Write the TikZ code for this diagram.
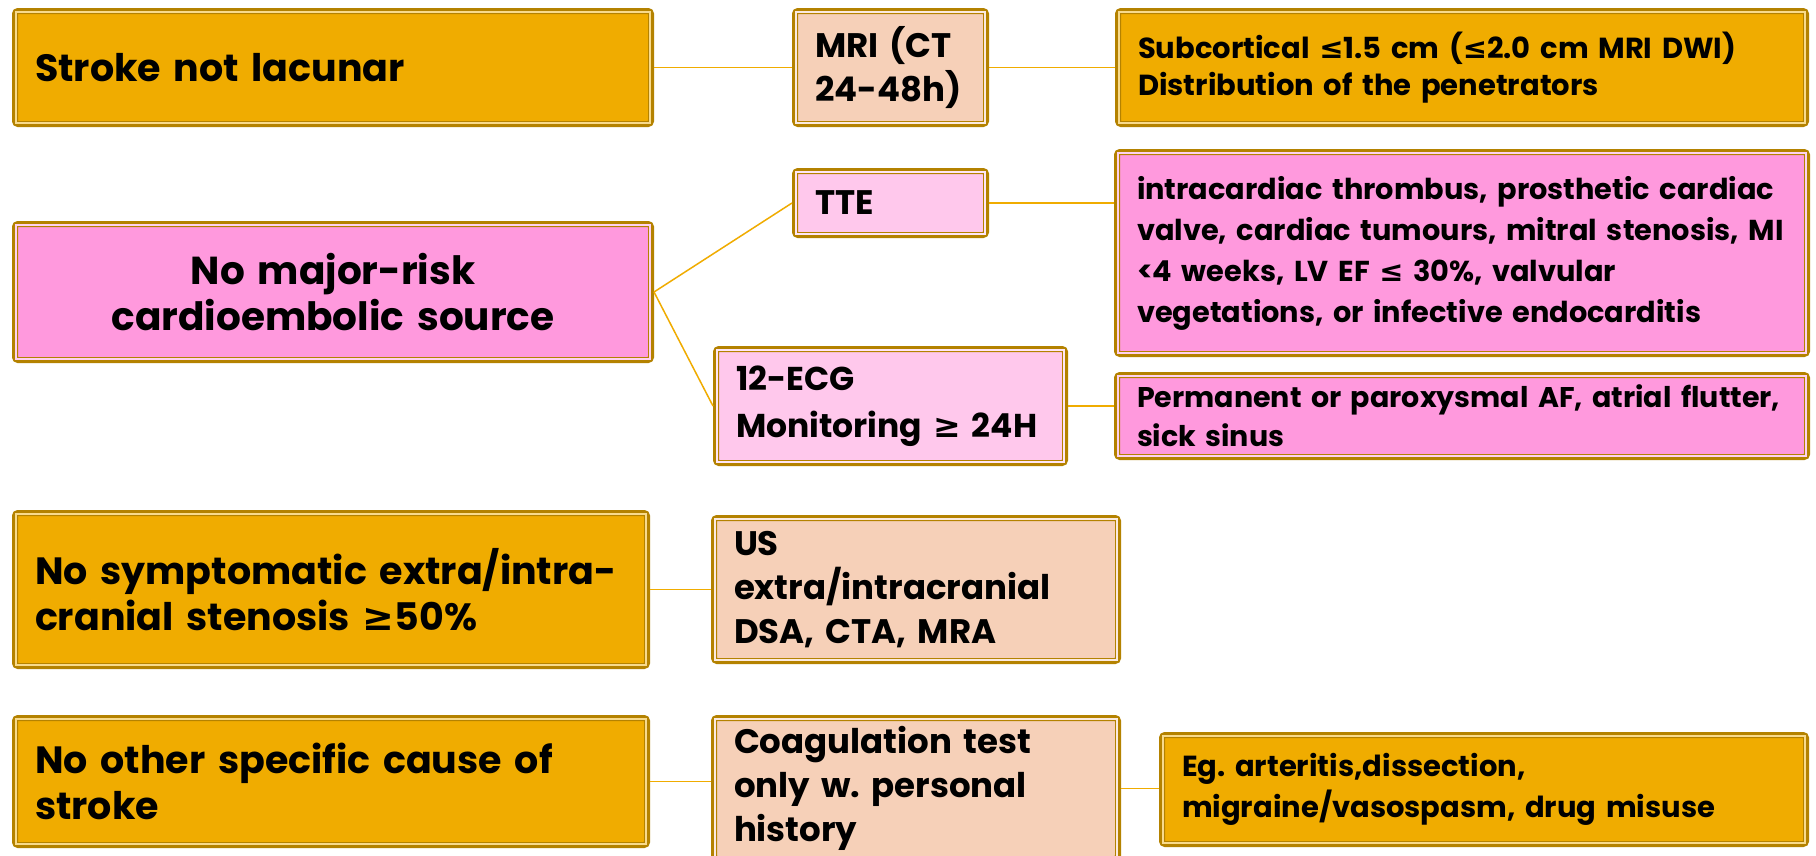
\documentclass[tikz,border=0pt]{standalone}
\usepackage{fontspec}
\setmainfont{Poppins}
\newfontfamily\symf{DejaVu Sans}
\newcommand\GEQ{{\symf ≥}}
\newcommand\LEQ{{\symf ≤}}
\frenchspacing
\definecolor{gold}{RGB}{180,130,0}
\definecolor{orng}{RGB}{240,172,0}
\definecolor{peach}{RGB}{246,208,184}
\definecolor{pinkA}{RGB}{255,153,221}
\definecolor{pinkB}{RGB}{255,200,236}
\definecolor{conn}{RGB}{240,172,0}
\tikzset{
  boxs/.style={draw=gold, line width=6pt, rounded corners=3pt, fill=#1,
    inner xsep=20pt, inner ysep=0pt, align=left, anchor=center, font=\bfseries},
  bigt/.style={font=\bfseries\fontsize{38}{46}\selectfont},
  midt/.style={font=\bfseries\fontsize{34}{44}\selectfont},
  link/.style={draw=conn, line width=1.5pt},
}
% \mkbox{name}{x1}{y1}{x2}{y2}{fill}{style}{text}
\newcommand\mkbox[8]{%
  \pgfmathsetmacro\bw{#4-#2}\pgfmathsetmacro\bh{#5-#3}%
  \node[boxs=#6, #7, minimum width=\bw pt-6pt, minimum height=\bh pt-6pt,
        text width=\bw pt-46pt] (#1) at ({(#2+#4)/2},{(#3+#5)/2}) {#8};%
}
\begin{document}
\begin{tikzpicture}[x=1pt,y=-1pt]
\useasboundingbox (0,0) rectangle (1816,855);
\clip (0,0) rectangle (1816,855);
\fill[white] (0,0) rectangle (1816,855);
\mkbox{stroke}{12}{8}{654}{127}{orng}{bigt}{Stroke not lacunar}
\mkbox{mri}{792}{8}{989}{127}{peach}{midt}{MRI (CT\\24-48h)}
\mkbox{subc}{1115}{8}{1809}{127}{orng}{font=\bfseries\fontsize{29}{37}\selectfont}{Subcortical \LEQ1.5 cm (\LEQ2.0 cm MRI DWI)\\Distribution of the penetrators}
\mkbox{cardio}{12}{221}{654}{363}{pinkA}{font=\bfseries\fontsize{39}{46}\selectfont, align=center}{No major-risk\\cardioembolic source}
\mkbox{tte}{792}{168}{989}{238}{pinkB}{midt}{TTE}
\mkbox{intra}{1114}{149}{1810}{357}{pinkA}{font=\bfseries\fontsize{28.8}{41}\selectfont}{intracardiac thrombus, prosthetic cardiac\\valve, cardiac tumours, mitral stenosis, MI\\<4 weeks, LV EF \LEQ{} 30\%, valvular\\vegetations, or infective endocarditis}
\mkbox{ecg}{713}{346}{1068}{466}{pinkB}{font=\bfseries\fontsize{33}{47}\selectfont}{12-ECG\\Monitoring~\GEQ{}~24H}
\mkbox{perm}{1114}{372}{1810}{460}{pinkA}{font=\bfseries\fontsize{28.5}{39}\selectfont}{Permanent or paroxysmal AF, atrial flutter,\\sick sinus}
\mkbox{sympt}{12}{510}{650}{669}{orng}{bigt}{No symptomatic extra/intra-\\cranial stenosis \GEQ50\%}
\mkbox{us}{711}{515}{1121}{664}{peach}{midt}{US\\extra/intracranial\\DSA, CTA, MRA}
\mkbox{other}{12}{715}{650}{848}{orng}{bigt}{No other specific cause of\\stroke}
\mkbox{coag}{711}{715}{1121}{862}{peach}{midt}{Coagulation test\\only w. personal\\history}
\mkbox{eg}{1159}{732}{1809}{847}{orng}{font=\bfseries\fontsize{29}{41}\selectfont}{Eg. arteritis,dissection,\\migraine/vasospasm, drug misuse}
% inner double lines
\foreach \n/\c in {stroke/orng, mri/peach, subc/orng, cardio/pinkA, tte/pinkB, intra/pinkA, ecg/pinkB, perm/pinkA, sympt/orng, us/peach, other/orng, coag/peach, eg/orng} {
  \draw[\c!45!white, line width=1.6pt] ([shift={(3.8,3.8)}]\n.north west) rectangle ([shift={(-3.8,-3.8)}]\n.south east);
  \draw[gold, line width=1.6pt] ([shift={(5.4,5.4)}]\n.north west) rectangle ([shift={(-5.4,-5.4)}]\n.south east);
}
% connectors
\draw[link] (stroke.east) -- (mri.west);
\draw[link] (mri.east) -- (subc.west);
\draw[link] (cardio.east) -- (tte.west);
\draw[link] (cardio.east) -- (ecg.west);
\draw[link] (tte.east) -- (tte.east -| intra.west);
\draw[link] (ecg.east) -- (ecg.east -| perm.west);
\draw[link] (sympt.east) -- (us.west);
\draw[link] (other.east) -- (other.east -| coag.west);
\draw[link] (coag.east) -- (coag.east -| eg.west);
\end{tikzpicture}
\end{document}
